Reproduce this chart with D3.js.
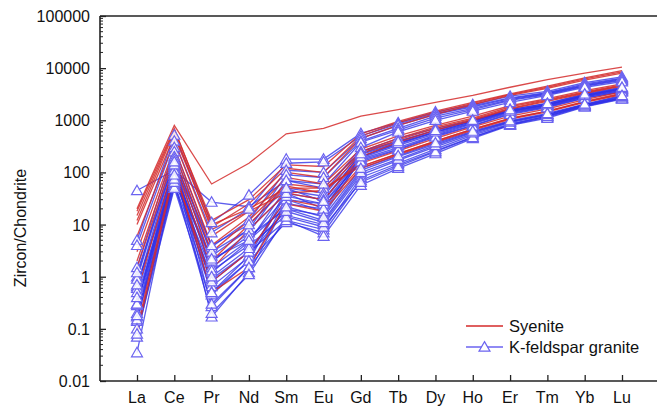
<!DOCTYPE html>
<html>
<head>
<meta charset="utf-8">
<script src="https://cdn.jsdelivr.net/npm/d3@7"></script>
<style>
  html, body { margin: 0; padding: 0; background: #fff; }
  svg { display: block; font-family: "Liberation Sans", Arial, sans-serif; }
</style>
</head>
<body>
<svg id="chart" width="657" height="412"></svg>
<script>
// Rare earth elements along the x axis
const elements = ["La", "Ce", "Pr", "Nd", "Sm", "Eu", "Gd", "Tb", "Dy", "Ho", "Er", "Tm", "Yb", "Lu"];

// Y tick labels (chondrite-normalised, log scale)
const yTicks = [0.01, 0.1, 1, 10, 100, 1000, 10000, 100000];
const yTickLabels = ["0.01", "0.1", "1", "10", "100", "1000", "10000", "100000"];

// Syenite zircon analyses (chondrite-normalised)
const syenite = [
  [20, 800, 60, 150, 550, 700, 1200, 1600, 2200, 3000, 4300, 6000, 8000, 10500],
  [15, 650, 12, 30, 140, 130, 550, 950, 1500, 2200, 3200, 4500, 6500, 9000],
  [10, 500, 9, 25, 120, 100, 500, 900, 1400, 2100, 3100, 4300, 6200, 8500],
  [6, 400, 6, 18, 100, 80, 450, 800, 1300, 2000, 3000, 4100, 5900, 8000],
  [3, 300, 4, 14, 80, 60, 280, 500, 800, 1200, 1900, 2600, 3700, 5000],
  [2, 250, 3, 12, 60, 50, 250, 450, 750, 1100, 1800, 2500, 3500, 4800],
  [1.5, 200, 2, 10, 55, 40, 230, 420, 700, 1050, 1700, 2400, 3400, 4600],
  [0.5, 150, 1.4, 8, 40, 30, 200, 380, 650, 1000, 1650, 2300, 3300, 4500],
  [0.1, 120, 0.5, 1.5, 25, 18, 120, 220, 380, 650, 1050, 1450, 2200, 3100],
  [0.08, 100, 0.8, 3, 30, 22, 130, 230, 400, 680, 1080, 1500, 2250, 3200],
  [18, 700, 10, 20, 50, 50, 130, 230, 400, 680, 1100, 1500, 2300, 3300],
  [12, 600, 8, 18, 40, 45, 150, 260, 450, 750, 1200, 1650, 2500, 3500]
];

// K-feldspar granite zircon analyses (chondrite-normalised)
const kfsGranite = [
  [45, 110, 27, 22, 70, 50, 250, 450, 700, 1000, 1500, 2000, 3000, 4000],
  [5, 520, 11, 37, 180, 180, 560, 900, 1450, 2000, 2900, 3600, 5300, 6800],
  [4, 400, 7, 20, 150, 160, 500, 850, 1350, 1900, 2700, 3400, 5000, 6400],
  [1.5, 300, 3.7, 12, 110, 100, 450, 800, 1300, 1800, 2600, 3300, 4800, 6200],
  [1.0, 250, 2.5, 8, 90, 80, 400, 700, 1200, 1700, 2500, 3200, 4600, 6000],
  [0.9, 200, 1.9, 7, 70, 60, 380, 650, 1100, 1600, 2400, 3100, 4500, 5800],
  [0.65, 180, 1.2, 4.7, 50, 40, 300, 600, 1000, 1500, 2200, 3000, 4300, 5500],
  [0.28, 160, 0.65, 2.4, 45, 35, 250, 400, 650, 1000, 1600, 2100, 3100, 4200],
  [0.2, 150, 0.45, 2, 40, 30, 220, 370, 600, 950, 1550, 2000, 3000, 4000],
  [0.17, 130, 0.27, 1.5, 30, 25, 200, 350, 580, 900, 1500, 1950, 2900, 3900],
  [0.14, 120, 0.17, 1.2, 25, 20, 190, 330, 550, 880, 1450, 1900, 2850, 3800],
  [0.07, 100, 0.5, 2.5, 20, 15, 180, 300, 520, 850, 1400, 1850, 2800, 3700],
  [0.035, 90, 0.9, 3, 30, 18, 170, 280, 500, 800, 1350, 1800, 2700, 3600],
  [0.3, 110, 1.5, 5, 35, 25, 160, 270, 480, 780, 1300, 1750, 2650, 3500],
  [0.6, 140, 3, 8, 40, 20, 200, 360, 600, 950, 1500, 2000, 3000, 4100],
  [1.2, 160, 4, 10, 50, 28, 230, 390, 640, 1000, 1600, 2100, 3200, 4300],
  [0.5, 80, 2, 6, 20, 12, 110, 200, 350, 600, 950, 1300, 2000, 2800],
  [0.3, 70, 1.3, 4, 15, 10, 90, 170, 310, 550, 900, 1250, 1950, 2700],
  [0.15, 60, 0.8, 3, 12, 8, 80, 150, 280, 520, 850, 1200, 1900, 2700],
  [0.1, 55, 0.5, 2, 11, 7, 70, 140, 260, 480, 820, 1150, 1850, 2600],
  [0.08, 50, 0.3, 1.5, 12, 6, 57, 120, 230, 450, 800, 1100, 1800, 2550],
  [0.18, 65, 0.2, 1.1, 14, 9, 65, 130, 250, 470, 830, 1200, 1900, 2700],
  [0.4, 75, 1, 3.5, 18, 11, 100, 180, 330, 580, 930, 1300, 2000, 2900],
  [0.7, 90, 2.2, 5, 22, 14, 120, 210, 370, 620, 980, 1350, 2050, 3000]
];

const legendLabels = ["Syenite", "K-feldspar granite"];

const svg = d3.select("#chart");
const W = 657;
const plot = { left: 100, top: 16, bottom: 381 };

const x = d3.scalePoint().domain(elements).range([137, 622]);
const y = d3.scaleLog().domain([0.01, 100000]).range([plot.bottom, plot.top]);

const red = "#d42a2a";
const blue = "#2f2fe8";
const triStroke = "#6b63f0";

const line = d3.line()
  .x((d, i) => x(elements[i]))
  .y(d => y(d));

// Granite lines
svg.append("g")
  .selectAll("path")
  .data(kfsGranite)
  .join("path")
  .attr("d", line)
  .attr("fill", "none")
  .attr("stroke", blue)
  .attr("stroke-opacity", 0.78)
  .attr("stroke-width", 1.3);

// Syenite lines
svg.append("g")
  .selectAll("path")
  .data(syenite)
  .join("path")
  .attr("d", line)
  .attr("fill", "none")
  .attr("stroke", red)
  .attr("stroke-opacity", 0.85)
  .attr("stroke-width", 1.3);

// Granite triangle markers
const tri = d3.symbol().type(d3.symbolTriangle).size(52);
const markers = [];
kfsGranite.forEach(s => s.forEach((v, i) => markers.push({ e: elements[i], v })));
svg.append("g")
  .selectAll("path")
  .data(markers)
  .join("path")
  .attr("d", tri)
  .attr("transform", d => `translate(${x(d.e)},${y(d.v) + 1})`)
  .attr("fill", "#fff")
  .attr("fill-opacity", 0.85)
  .attr("stroke", triStroke)
  .attr("stroke-width", 1.2);

// Frame: top, left and bottom lines
const axisColor = "#222";
svg.append("line").attr("x1", plot.left).attr("x2", W).attr("y1", plot.top).attr("y2", plot.top)
  .attr("stroke", axisColor).attr("stroke-width", 1.6);
svg.append("line").attr("x1", plot.left).attr("x2", W).attr("y1", plot.bottom).attr("y2", plot.bottom)
  .attr("stroke", axisColor).attr("stroke-width", 1.6);
svg.append("line").attr("x1", plot.left).attr("x2", plot.left).attr("y1", plot.top).attr("y2", plot.bottom)
  .attr("stroke", axisColor).attr("stroke-width", 1.6);

// Y axis: major and minor ticks pointing inward
const yAxis = d3.axisRight(y)
  .tickValues(yTicks)
  .tickSize(6)
  .tickFormat("");
const yg = svg.append("g").attr("transform", `translate(${plot.left},0)`).call(yAxis);
yg.select(".domain").remove();
yg.selectAll("line").attr("stroke", axisColor).attr("stroke-width", 1.3);

const minor = [];
for (let e = -2; e < 5; e++) for (let m = 2; m <= 9; m++) minor.push(m * Math.pow(10, e));
svg.append("g")
  .selectAll("line")
  .data(minor)
  .join("line")
  .attr("x1", plot.left).attr("x2", plot.left + 3)
  .attr("y1", d => y(d)).attr("y2", d => y(d))
  .attr("stroke", axisColor).attr("stroke-width", 1);

svg.append("g")
  .selectAll("text")
  .data(yTicks)
  .join("text")
  .attr("x", 90)
  .attr("y", d => y(d) + 6)
  .attr("text-anchor", "end")
  .attr("font-size", 16)
  .attr("fill", "#111")
  .text((d, i) => yTickLabels[i]);

// X axis ticks pointing inward, labels below
const xAxis = d3.axisTop(x).tickSize(6).tickFormat("");
const xg = svg.append("g").attr("transform", `translate(0,${plot.bottom})`).call(xAxis);
xg.select(".domain").remove();
xg.selectAll("line").attr("stroke", axisColor).attr("stroke-width", 1.3);

svg.append("g")
  .selectAll("text")
  .data(elements)
  .join("text")
  .attr("x", d => x(d))
  .attr("y", 403)
  .attr("text-anchor", "middle")
  .attr("font-size", 16)
  .attr("fill", "#111")
  .text(d => d);

// Y axis title
svg.append("text")
  .attr("transform", "translate(26,228) rotate(-90)")
  .attr("text-anchor", "middle")
  .attr("font-size", 16)
  .attr("fill", "#111")
  .text("Zircon/Chondrite");

// Legend
const lg = svg.append("g");
lg.append("line").attr("x1", 466).attr("x2", 503).attr("y1", 326).attr("y2", 326)
  .attr("stroke", red).attr("stroke-width", 1.3);
lg.append("text").attr("x", 509).attr("y", 332).attr("font-size", 16.5).attr("fill", "#111")
  .text(legendLabels[0]);
lg.append("line").attr("x1", 466).attr("x2", 503).attr("y1", 347).attr("y2", 347)
  .attr("stroke", triStroke).attr("stroke-width", 1.3);
lg.append("path").attr("d", tri).attr("transform", "translate(484.5,348)")
  .attr("fill", "#fff").attr("stroke", triStroke).attr("stroke-width", 1.2);
lg.append("text").attr("x", 509).attr("y", 353).attr("font-size", 16.5).attr("fill", "#111")
  .text(legendLabels[1]);
</script>
</body>
</html>
